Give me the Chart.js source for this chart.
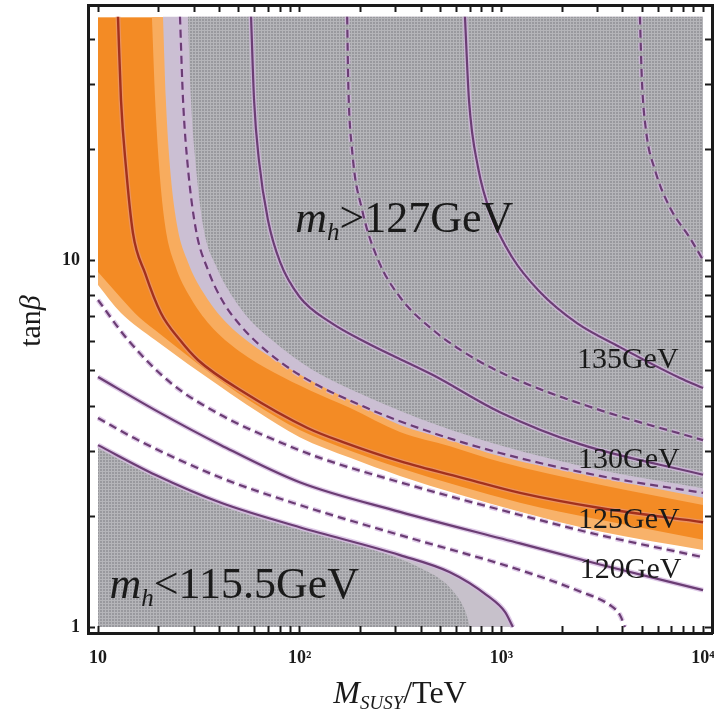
<!DOCTYPE html>
<html>
<head>
<meta charset="utf-8">
<script src="https://cdn.jsdelivr.net/npm/chart.js@4.4.1/dist/chart.umd.min.js"></script>
<style>
  html, body { margin: 0; padding: 0; background: #fff; }
</style>
</head>
<body>
<canvas id="myChart" width="714" height="719"></canvas>
<script>
// contour lines of m_h, as [M_SUSY (TeV), tan beta]
const mh1375 = [[4866, 46], [4977, 30.9], [5212, 22.6], [5775, 17.6], [6855, 13.9], [8613, 11.48], [10000, 10]];
const mh135 = [[660, 46], [691, 27.3], [766, 17.9], [898, 13.1], [1129, 10.19], [1554, 8.18], [2371, 6.73], [3873, 5.79], [7686, 4.77], [10000, 4.48]];
const mh1325 = [[172, 46], [174, 30.9], [182, 19.9], [204, 13.7], [245, 10.0], [314, 7.93], [458, 6.45], [757, 5.34], [1237, 4.68], [3082, 3.9], [10000, 3.23]];
const mh130 = [[57.4, 46], [59.4, 27.3], [62.8, 18.7], [69.6, 12.85], [79.9, 9.88], [100, 7.93], [141, 6.78], [216, 5.94], [458, 4.86], [984, 3.85], [2454, 3.15], [10000, 2.6]];
const mh1275 = [[25.5, 46], [26.4, 27.3], [27.9, 17.9], [30.6, 12.07], [35.1, 9.39], [41.2, 7.78], [50.6, 6.65], [65, 5.79], [100, 4.86], [216, 3.95], [458, 3.38], [984, 2.98], [3082, 2.58], [10000, 2.32]];
const mh125 = [[12.56, 46], [13, 27.3], [13.76, 17.9], [14.9, 11.85], [17.1, 9.22], [20.5, 7.17], [25.5, 6.05], [31.3, 5.34], [53.6, 4.34], [110, 3.48], [164, 3.19], [314, 2.83], [675, 2.53], [1237, 2.32], [3082, 2.11], [10000, 1.93]];
const mh1225 = [[10, 7.78], [14.1, 6.05], [23, 4.62], [40.7, 3.78], [75.4, 3.23], [126, 2.89], [314, 2.48], [1237, 2.02], [3082, 1.78], [10000, 1.55]];
const mh120 = [[10, 4.8], [19.2, 3.9], [40.7, 3.13], [100, 2.48], [314, 2.06], [1237, 1.69], [3082, 1.48], [10000, 1.26]];
const mh1175 = [[10, 3.71], [15.8, 3.23], [40.7, 2.55], [100, 2.15], [314, 1.78], [1237, 1.43], [2454, 1.25], [3451, 1.148], [3873, 1.078], [4101, 1.0]];
const mh1155 = [[10, 3.13], [19.2, 2.6], [40.7, 2.18], [100, 1.87], [314, 1.57], [556, 1.41], [849, 1.22], [1042, 1.1], [1141, 1.0]];

// edges of the shaded regions
const bandOuterLow = [[10, 8.55], [13, 7.17], [19.2, 6.05], [27.9, 5.21], [40.7, 4.51], [60, 3.9], [100, 3.29], [178, 2.89], [314, 2.58], [1237, 2.06], [3082, 1.82], [10000, 1.62]];
const bandInnerLow = [[10, 9.27], [13, 7.88], [16.15, 6.95], [20.3, 6.29], [27.9, 5.48], [40.7, 4.68], [60, 4.05], [100, 3.44], [178, 3.02], [314, 2.71], [1237, 2.18], [3082, 1.96], [10000, 1.73]];
const bandInnerHigh = [[18.5, 46], [19.2, 27.3], [20.1, 17.9], [21.5, 12.45], [24.1, 9.69], [28.6, 7.93], [35.9, 6.65], [50.6, 5.62], [75.4, 4.92], [112, 4.42], [178, 3.95], [314, 3.4], [556, 3.11], [984, 2.82], [3082, 2.44], [10000, 2.15]];
const bandOuterHigh = [[21, 46], [21.7, 27.3], [22.75, 17.9], [24.65, 12.45], [27.9, 9.88], [33.15, 8.18], [41.2, 6.95], [56.7, 5.94], [79.9, 5.24], [112, 4.71], [178, 4.15], [314, 3.55], [556, 3.23], [984, 2.92], [3082, 2.55], [10000, 2.25]];
const excludedHigh = [[27.9, 46], [28.9, 27.3], [30.6, 17.9], [33.5, 12.07], [38.9, 9.51], [46.2, 7.98], [56.7, 6.86], [72.9, 6.05], [112, 5.08], [223, 4.21], [469, 3.57], [984, 3.13], [3082, 2.68], [10000, 2.39]];
const excludedLow = [[10, 3.07], [19.2, 2.55], [40.7, 2.14], [100, 1.84], [250, 1.6], [395, 1.45], [556, 1.28], [660, 1.11], [699, 1.0]];

const tanBetaTop = 46;
const bandTop = 45.8;
const tanBetaBottom = 1;

// ticks
const xTicks = [10, 20, 30, 40, 50, 60, 70, 80, 90, 100, 200, 300, 400, 500, 600, 700, 800, 900,
  1000, 2000, 3000, 4000, 5000, 6000, 7000, 8000, 9000, 10000];
const xTickLabels = { 10: '10', 100: '10\u00b2', 1000: '10\u00b3', 10000: '10\u2074' };
const yTicks = [1, 2, 3, 4, 5, 6, 7, 8, 9, 10, 20, 30, 40];
const yTickLabels = { 1: '1', 10: '10' };

// text in the plot
const contourLabels = [
  { text: '135GeV', at: [2370, 5.08] },
  { text: '130GeV', at: [2400, 2.71] },
  { text: '125GeV', at: [2400, 1.86] },
  { text: '120GeV', at: [2450, 1.36] },
];
const regionLabels = [
  { rel: '>127GeV', at: [95, 11.9] },
  { rel: '<115.5GeV', at: [11.4, 1.2] },
];

const SERIF = '"Liberation Serif", "DejaVu Serif", serif';
const INK = '#1a1a1a';
const PURPLE = '#6b3d74';
const HALO = 'rgba(212, 184, 224, 0.75)';

function grayTexture() {
  const c = document.createElement('canvas');
  c.width = 3; c.height = 3;
  const g = c.getContext('2d');
  g.fillStyle = '#99999e';
  g.fillRect(0, 0, 3, 3);
  g.fillStyle = '#b5b5b9';
  g.fillRect(0, 0, 3, 1);
  g.fillRect(0, 0, 1, 3);
  return g.createPattern(c, 'repeat');
}
const GRAY = grayTexture();

const pts = (arr) => arr.map(([x, y]) => ({ x, y }));

const fillLayer = (arr, color, to, order) => ({
  data: pts(arr),
  backgroundColor: color,
  borderWidth: 0,
  pointRadius: 0,
  fill: { value: to },
  cubicInterpolationMode: 'monotone',
  order,
});

const contours = [
  { data: mh1375, dashed: true },
  { data: mh135, dashed: false },
  { data: mh1325, dashed: true },
  { data: mh130, dashed: false },
  { data: mh1275, dashed: true },
  { data: mh1225, dashed: true },
  { data: mh120, dashed: false },
  { data: mh1175, dashed: true },
  { data: mh1155, dashed: false },
];

const lineLayer = (arr, color, width, dashed, order) => ({
  data: pts(arr),
  borderColor: color,
  borderWidth: width,
  borderDash: dashed ? [8, 5] : [],
  pointRadius: 0,
  fill: false,
  cubicInterpolationMode: 'monotone',
  order,
});

const datasets = [
  fillLayer(bandOuterLow, '#f8b26a', bandTop, 40),
  fillLayer(bandInnerLow, '#f38b25', bandTop, 39),
  fillLayer(bandInnerHigh, '#f8ac5e', bandTop, 38),
  fillLayer(bandOuterHigh, '#cbbfd3', tanBetaTop, 37),
  fillLayer(excludedHigh, GRAY, tanBetaTop, 36),
  fillLayer(mh1155, '#c7c1cb', tanBetaBottom, 35),
  fillLayer(excludedLow, GRAY, tanBetaBottom, 34),
];
contours.forEach((c) => datasets.push(lineLayer(c.data, HALO, 5, c.dashed, 20)));
contours.forEach((c) => datasets.push(lineLayer(c.data, PURPLE, 2.2, c.dashed, 10)));
datasets.push(lineLayer(mh125, 'rgba(230, 150, 120, 0.7)', 5, false, 20));
datasets.push(lineLayer(mh125, '#a3301c', 2.4, false, 5));

function drawRuns(ctx, runs, x, y) {
  for (const [text, font, dy] of runs) {
    ctx.font = font;
    ctx.fillText(text, x, y + dy);
    x += ctx.measureText(text).width;
  }
  return x;
}

function runsWidth(ctx, runs) {
  let w = 0;
  for (const [text, font] of runs) {
    ctx.font = font;
    w += ctx.measureText(text).width;
  }
  return w;
}

const textLayer = {
  id: 'textLayer',
  afterDatasetsDraw(chart) {
    const { ctx, scales: { x, y } } = chart;
    ctx.save();
    ctx.fillStyle = INK;
    ctx.textBaseline = 'alphabetic';
    ctx.textAlign = 'left';

    contourLabels.forEach((l) => {
      ctx.font = `30px ${SERIF}`;
      ctx.fillText(l.text, x.getPixelForValue(l.at[0]), y.getPixelForValue(l.at[1]));
    });

    regionLabels.forEach((l) => {
      drawRuns(ctx, [
        ['m', `italic 44px ${SERIF}`, 0],
        ['h', `italic 25px ${SERIF}`, 8],
        [l.rel, `44px ${SERIF}`, 0],
      ], x.getPixelForValue(l.at[0]), y.getPixelForValue(l.at[1]));
    });
    ctx.restore();
  },
  afterDraw(chart) {
    const { ctx, chartArea } = chart;
    ctx.save();
    ctx.fillStyle = INK;
    ctx.textBaseline = 'alphabetic';
    ctx.textAlign = 'left';

    const xTitle = [
      ['M', `italic 32px ${SERIF}`, 0],
      ['SUSY', `italic 19px ${SERIF}`, 6],
      ['/TeV', `32px ${SERIF}`, 0],
    ];
    const cx = (chartArea.left + chartArea.right) / 2;
    drawRuns(ctx, xTitle, cx - runsWidth(ctx, xTitle) / 2, chartArea.bottom + 70);

    const yTitle = [
      ['tan', `30px ${SERIF}`, 0],
      ['\u03b2', `italic 30px ${SERIF}`, 0],
    ];
    ctx.translate(40, (chartArea.top + chartArea.bottom) / 2 + 2);
    ctx.rotate(-Math.PI / 2);
    drawRuns(ctx, yTitle, -runsWidth(ctx, yTitle) / 2, 0);
    ctx.restore();
  },
};

// fixed frame: no extra label padding from Chart.js
function fixSize(prop, size) {
  return (s) => {
    s[prop] = size;
    s.paddingLeft = 0; s.paddingRight = 0; s.paddingTop = 0; s.paddingBottom = 0;
  };
}

const frameGrid = { drawOnChartArea: false, tickLength: -7, tickWidth: 2, tickColor: INK, z: 1 };
const frameBorder = { display: true, width: 3, color: INK, z: 1 };
const tickFont = { family: SERIF, size: 18, weight: 'bold' };

const ctx = document.getElementById('myChart').getContext('2d');

const chart = new Chart(ctx, {
  type: 'line',
  data: { datasets },
  options: {
    responsive: false,
    animation: false,
    events: [],
    layout: { padding: 0 },
    plugins: { legend: { display: false }, tooltip: { enabled: false } },
    scales: {
      x: {
        type: 'logarithmic',
        position: 'bottom',
        min: 8.92,
        max: 11080,
        afterBuildTicks: (s) => { s.ticks = xTicks.map((v) => ({ value: v })); },
        afterFit: fixSize('height', 86),
        ticks: {
          autoSkip: false, maxRotation: 0, padding: 22, color: INK, font: tickFont,
          callback: (v) => xTickLabels[v] || '',
        },
        grid: frameGrid,
        border: frameBorder,
      },
      x2: {
        type: 'logarithmic',
        position: 'top',
        min: 8.92,
        max: 11080,
        afterBuildTicks: (s) => { s.ticks = xTicks.map((v) => ({ value: v })); },
        afterFit: fixSize('height', 5),
        ticks: { display: false },
        grid: frameGrid,
        border: frameBorder,
      },
      y: {
        type: 'logarithmic',
        position: 'left',
        min: 0.9631,
        max: 49.53,
        afterBuildTicks: (s) => { s.ticks = yTicks.map((v) => ({ value: v })); },
        afterFit: fixSize('width', 88),
        ticks: {
          autoSkip: false, padding: 15, color: INK, font: tickFont,
          callback: (v) => yTickLabels[v] || '',
        },
        grid: frameGrid,
        border: frameBorder,
      },
      y2: {
        type: 'logarithmic',
        position: 'right',
        min: 0.9631,
        max: 49.53,
        afterBuildTicks: (s) => { s.ticks = yTicks.map((v) => ({ value: v })); },
        afterFit: fixSize('width', 2),
        ticks: { display: false },
        grid: frameGrid,
        border: frameBorder,
      },
    },
  },
  plugins: [textLayer],
});
</script>
</body>
</html>
